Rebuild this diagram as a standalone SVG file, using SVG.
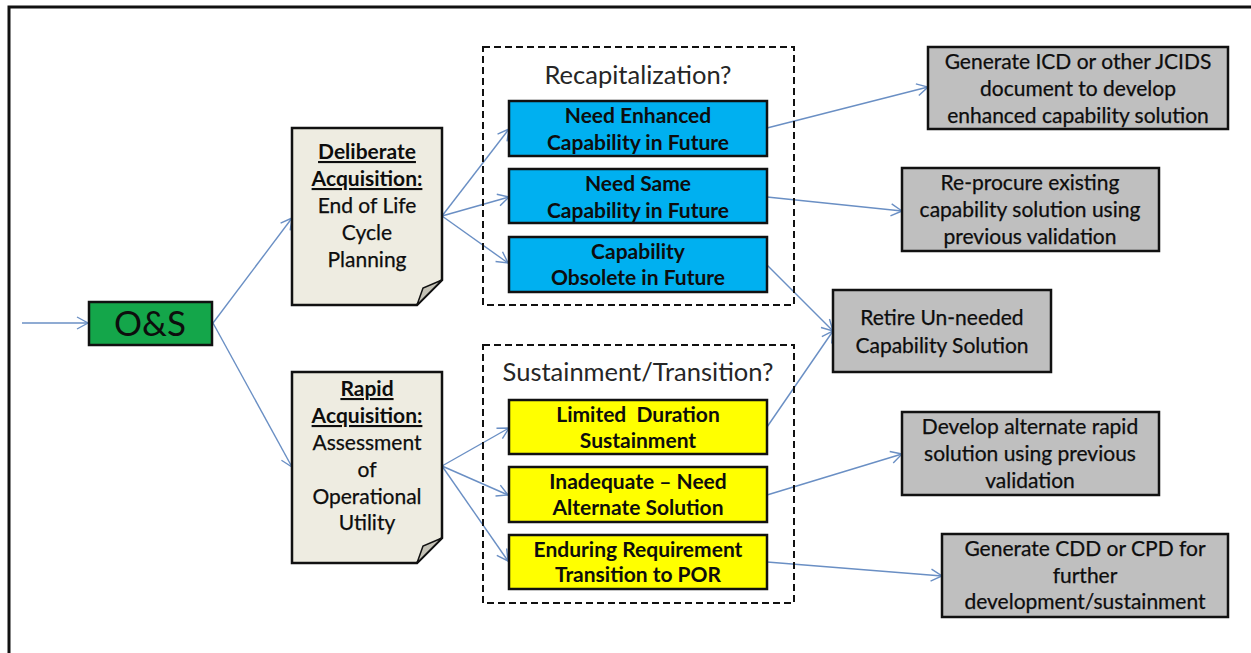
<svg xmlns="http://www.w3.org/2000/svg" width="1251" height="653" viewBox="0 0 1251 653">
<defs>
<style>
text{font-family:Lato,"Open Sans","Liberation Sans",sans-serif;text-anchor:middle;fill:#0d0d0d}
.b{font-weight:bold}
.u{text-decoration:underline}
.box{stroke:#111;stroke-width:2.5}
.dash{fill:none;stroke:#111;stroke-width:2;stroke-dasharray:7,4}
.c{fill:none;stroke:#6a8fc4;stroke-width:1.4}
.t21{font-size:21px}
.r{font-size:21px;stroke:#0d0d0d;stroke-width:0.25}
.ttl{font-size:25.5px;fill:#262626}
</style>
<marker id="ah" markerUnits="userSpaceOnUse" markerWidth="14" markerHeight="14" viewBox="0 0 14 14" refX="12" refY="7" orient="auto">
<path d="M1,1 L12,7 L1,13" fill="none" stroke="#6a8fc4" stroke-width="1.4"/>
</marker>
</defs>
<rect x="0" y="0" width="1251" height="653" fill="#fff"/>
<rect x="9" y="7" width="1262" height="670" fill="none" stroke="#111" stroke-width="3"/>

<g id="connectors">
<line class="c" x1="22" y1="323" x2="88" y2="323" marker-end="url(#ah)"/>
<line class="c" x1="213" y1="323" x2="292" y2="218" marker-end="url(#ah)"/>
<line class="c" x1="213" y1="323" x2="292" y2="467" marker-end="url(#ah)"/>
<line class="c" x1="442" y1="216" x2="509" y2="129" marker-end="url(#ah)"/>
<line class="c" x1="442" y1="216" x2="509" y2="197" marker-end="url(#ah)"/>
<line class="c" x1="442" y1="216" x2="508" y2="263" marker-end="url(#ah)"/>
<line class="c" x1="442" y1="466" x2="509" y2="428" marker-end="url(#ah)"/>
<line class="c" x1="442" y1="466" x2="508" y2="495" marker-end="url(#ah)"/>
<line class="c" x1="442" y1="466" x2="508" y2="561" marker-end="url(#ah)"/>
<line class="c" x1="767" y1="128" x2="928" y2="87" marker-end="url(#ah)"/>
<line class="c" x1="767" y1="197" x2="902" y2="211" marker-end="url(#ah)"/>
<line class="c" x1="767" y1="265" x2="833" y2="331" marker-end="url(#ah)"/>
<line class="c" x1="767" y1="427" x2="833" y2="331" marker-end="url(#ah)"/>
<line class="c" x1="767" y1="495" x2="902" y2="454" marker-end="url(#ah)"/>
<line class="c" x1="767" y1="562" x2="942" y2="576" marker-end="url(#ah)"/>
</g>

<g id="os">
<rect class="box" x="89" y="302" width="123" height="43" fill="#14a64a"/>
<text x="150" y="336" style="font-size:35px">O&amp;S</text>
</g>

<g id="deliberate">
<path class="box" d="M292,128 H442 V280 L417,305 H292 Z" fill="#eeece1"/>
<path d="M417,305 L423,288 L442,280 Z" fill="#c4c2b6" stroke="#111" stroke-width="1.5"/>
<text class="t21 b u" x="367" y="159">Deliberate</text>
<text class="t21 b u" x="367" y="186">Acquisition:</text>
<text class="r" x="367" y="213">End of Life</text>
<text class="r" x="367" y="240">Cycle</text>
<text class="r" x="367" y="267">Planning</text>
</g>

<g id="rapid">
<path class="box" d="M292,372 H442 V538 L417,563 H292 Z" fill="#eeece1"/>
<path d="M417,563 L423,546 L442,538 Z" fill="#c4c2b6" stroke="#111" stroke-width="1.5"/>
<text class="t21 b u" x="367" y="396">Rapid</text>
<text class="t21 b u" x="367" y="423">Acquisition:</text>
<text class="r" x="367" y="450">Assessment</text>
<text class="r" x="367" y="477">of</text>
<text class="r" x="367" y="504">Operational</text>
<text class="r" x="367" y="530">Utility</text>
</g>

<g id="recap">
<rect class="dash" x="483" y="47" width="311" height="258"/>
<text class="ttl" x="638" y="84">Recapitalization?</text>
</g>
<g id="need-enhanced">
<rect class="box" x="509" y="101" width="258" height="55" fill="#00b0f0"/>
<text class="t21 b" x="638" y="123">Need Enhanced</text>
<text class="t21 b" x="638" y="150">Capability in Future</text>
</g>
<g id="need-same">
<rect class="box" x="509" y="169" width="258" height="54" fill="#00b0f0"/>
<text class="t21 b" x="638" y="191">Need Same</text>
<text class="t21 b" x="638" y="218">Capability in Future</text>
</g>
<g id="obsolete">
<rect class="box" x="509" y="237" width="258" height="55" fill="#00b0f0"/>
<text class="t21 b" x="638" y="259">Capability</text>
<text class="t21 b" x="638" y="285">Obsolete in Future</text>
</g>

<g id="sustain">
<rect class="dash" x="483" y="345" width="311" height="258"/>
<text class="ttl" x="638" y="381">Sustainment/Transition?</text>
</g>
<g id="limited">
<rect class="box" x="509" y="400" width="258" height="54" fill="#ffff00"/>
<text class="t21 b" x="638" y="422" xml:space="preserve">Limited  Duration</text>
<text class="t21 b" x="638" y="448">Sustainment</text>
</g>
<g id="inadequate">
<rect class="box" x="509" y="467" width="258" height="55" fill="#ffff00"/>
<text class="t21 b" x="638" y="489">Inadequate – Need</text>
<text class="t21 b" x="638" y="515">Alternate Solution</text>
</g>
<g id="enduring">
<rect class="box" x="509" y="535" width="258" height="54" fill="#ffff00"/>
<text class="t21 b" x="638" y="557">Enduring Requirement</text>
<text class="t21 b" x="638" y="582">Transition to POR</text>
</g>

<g id="g-icd">
<rect class="box" x="928" y="47" width="300" height="82" fill="#bfbfbf"/>
<text class="r" x="1078" y="69">Generate ICD or other JCIDS</text>
<text class="r" x="1078" y="96">document to develop</text>
<text class="r" x="1078" y="123">enhanced capability solution</text>
</g>
<g id="g-reprocure">
<rect class="box" x="902" y="168" width="257" height="83" fill="#bfbfbf"/>
<text class="r" x="1030" y="190">Re-procure existing</text>
<text class="r" x="1030" y="217">capability solution using</text>
<text class="r" x="1030" y="244">previous validation</text>
</g>
<g id="g-retire">
<rect class="box" x="833" y="290" width="218" height="82" fill="#bfbfbf"/>
<text class="r" x="942" y="325">Retire Un-needed</text>
<text class="r" x="942" y="353">Capability Solution</text>
</g>
<g id="g-alternate">
<rect class="box" x="902" y="412" width="257" height="83" fill="#bfbfbf"/>
<text class="r" x="1030" y="434">Develop alternate rapid</text>
<text class="r" x="1030" y="461">solution using previous</text>
<text class="r" x="1030" y="488">validation</text>
</g>
<g id="g-cdd">
<rect class="box" x="942" y="534" width="286" height="83" fill="#bfbfbf"/>
<text class="r" x="1085" y="556">Generate CDD or CPD for</text>
<text class="r" x="1085" y="583">further</text>
<text class="r" x="1085" y="609">development/sustainment</text>
</g>
</svg>
